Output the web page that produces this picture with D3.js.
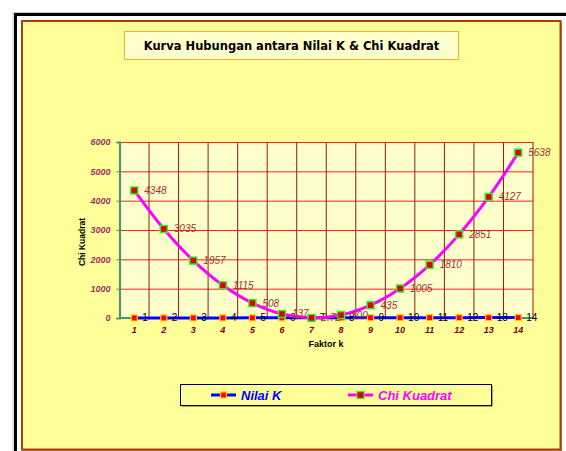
<!DOCTYPE html>
<html>
<head>
<meta charset="utf-8">
<script src="https://d3js.org/d3.v7.min.js"></script>
<style>
  body { margin: 0; background: #fff; }
  svg { display: block; }
</style>
</head>
<body>
<svg id="chart" width="566" height="451"></svg>
<script>
// data
const faktorK = [1, 2, 3, 4, 5, 6, 7, 8, 9, 10, 11, 12, 13, 14];
const nilaiK = [1, 2, 3, 4, 5, 6, 7, 8, 9, 10, 11, 12, 13, 14];
const chiKuadrat = [4348, 3035, 1957, 1115, 508, 137, 2.72, 100, 435, 1005, 1810, 2851, 4127, 5638];
const yTicks = [0, 1000, 2000, 3000, 4000, 5000, 6000];

const svg = d3.select('#chart');

// outer black frame (runs off the window)
svg.append('rect')
  .attr('x', 13).attr('y', 12.5).attr('width', 600).attr('height', 500)
  .attr('fill', 'none').attr('stroke', '#ccc').attr('stroke-width', 1);
svg.append('rect')
  .attr('x', 15.5).attr('y', 14.5).attr('width', 600).attr('height', 500)
  .attr('fill', 'none').attr('stroke', '#000').attr('stroke-width', 3);

// chart area with brown border
svg.append('rect')
  .attr('x', 23).attr('y', 22).attr('width', 539).attr('height', 429)
  .attr('fill', '#c98a5a');
svg.append('rect')
  .attr('x', 22).attr('y', 21).attr('width', 538.5).attr('height', 428.5)
  .attr('fill', '#FFFF99').attr('stroke', '#A5400C').attr('stroke-width', 2);

// title box
svg.append('rect')
  .attr('x', 124.5).attr('y', 31.5).attr('width', 334).attr('height', 28)
  .attr('fill', '#FFFFCC').attr('stroke', '#FFAA33').attr('stroke-width', 1);
svg.append('text')
  .attr('x', 291.5).attr('y', 50)
  .attr('text-anchor', 'middle')
  .style('font-family', '"DejaVu Sans", sans-serif')
  .style('font-weight', 'bold')
  .style('font-size', '11.5px')
  .style('fill', '#000')
  .text('Kurva Hubungan antara Nilai K & Chi Kuadrat');

// plot area
const plot = {left: 119.5, right: 533, top: 142, bottom: 318};
const x = d3.scaleBand().domain(faktorK).range([plot.left, plot.right]);
const y = d3.scaleLinear().domain([0, 6000]).range([plot.bottom, plot.top]);
const cx = d => x(d) + x.bandwidth() / 2;

svg.append('rect')
  .attr('x', plot.left).attr('y', plot.top)
  .attr('width', plot.right - plot.left).attr('height', plot.bottom - plot.top)
  .attr('fill', '#FFFFCC');

// horizontal gridlines
svg.append('g')
  .attr('transform', `translate(${plot.left},0)`)
  .call(d3.axisLeft(y).tickValues(yTicks.slice(1)).tickSize(-(plot.right - plot.left)).tickFormat(''))
  .call(g => g.select('.domain').remove())
  .call(g => g.selectAll('line').attr('stroke', '#FF2020'));

// vertical gridlines at category boundaries
svg.append('g')
  .selectAll('line')
  .data(faktorK)
  .join('line')
  .attr('x1', d => x(d) + x.bandwidth()).attr('x2', d => x(d) + x.bandwidth())
  .attr('y1', plot.top).attr('y2', plot.bottom)
  .attr('stroke', '#8B1A1A').attr('stroke-width', 1);

// y axis
const yAxis = svg.append('g')
  .attr('transform', `translate(${plot.left},0)`)
  .call(d3.axisLeft(y).tickValues(yTicks).tickFormat(d3.format('d')).tickSize(3).tickPadding(6));
yAxis.select('.domain').attr('stroke', '#3A9A6A').attr('stroke-width', 2);
yAxis.selectAll('line').attr('stroke', '#3A9A6A');
yAxis.selectAll('text')
  .style('font-family', '"Liberation Sans", Arial, sans-serif')
  .style('font-size', '9px').style('font-weight', 'bold').style('font-style', 'italic')
  .style('fill', '#993366');

// x axis line
svg.append('line')
  .attr('x1', plot.left).attr('x2', plot.right)
  .attr('y1', plot.bottom).attr('y2', plot.bottom)
  .attr('stroke', '#3A9A6A').attr('stroke-width', 2);

// x tick labels
svg.append('g')
  .selectAll('text')
  .data(faktorK)
  .join('text')
  .attr('x', d => cx(d)).attr('y', 333)
  .attr('text-anchor', 'middle')
  .style('font-family', '"Liberation Sans", Arial, sans-serif')
  .style('font-size', '9px').style('font-weight', 'bold').style('font-style', 'italic')
  .style('fill', '#800000')
  .text(d => d);

// axis titles
svg.append('text')
  .attr('x', 326).attr('y', 347)
  .attr('text-anchor', 'middle')
  .style('font-family', '"Liberation Sans", Arial, sans-serif')
  .style('font-size', '9px').style('font-weight', 'bold')
  .text('Faktor k');
svg.append('text')
  .attr('transform', 'translate(85,242) rotate(-90)')
  .attr('text-anchor', 'middle')
  .style('font-family', '"Liberation Sans", Arial, sans-serif')
  .style('font-size', '8.5px').style('font-weight', 'bold')
  .text('Chi Kuadrat');

// Nilai K series
const lineK = d3.line().x((d, i) => cx(faktorK[i])).y(d => y(d));
svg.append('path')
  .datum(nilaiK)
  .attr('d', lineK)
  .attr('fill', 'none').attr('stroke', '#0000FF').attr('stroke-width', 3);
svg.append('g')
  .selectAll('rect')
  .data(nilaiK)
  .join('rect')
  .attr('x', (d, i) => cx(faktorK[i]) - 3).attr('y', d => y(d) - 3)
  .attr('width', 6).attr('height', 6)
  .attr('fill', '#FF0000').attr('stroke', '#FFCC00').attr('stroke-width', 1.2);
svg.append('g')
  .selectAll('text')
  .data(nilaiK)
  .join('text')
  .attr('x', (d, i) => cx(faktorK[i]) + 8).attr('y', d => y(d) + 3.5)
  .style('font-family', '"Liberation Sans", Arial, sans-serif')
  .style('font-size', '10px')
  .style('fill', '#000')
  .text(d => d);

// Chi Kuadrat series
const lineChi = d3.line().x((d, i) => cx(faktorK[i])).y(d => y(d)).curve(d3.curveCatmullRom.alpha(0.5));
svg.append('path')
  .datum(chiKuadrat)
  .attr('d', lineChi)
  .attr('fill', 'none').attr('stroke', '#FF00FF').attr('stroke-width', 3);
svg.append('g')
  .selectAll('rect')
  .data(chiKuadrat)
  .join('rect')
  .attr('x', (d, i) => cx(faktorK[i]) - 3.5).attr('y', d => y(d) - 3.5)
  .attr('width', 7).attr('height', 7)
  .attr('fill', '#E00000').attr('stroke', '#33EE33').attr('stroke-width', 1.5);
svg.append('g')
  .selectAll('text')
  .data(chiKuadrat)
  .join('text')
  .attr('x', (d, i) => cx(faktorK[i]) + 10).attr('y', d => y(d) + 3.5)
  .style('font-family', '"Liberation Sans", Arial, sans-serif')
  .style('font-size', '10px').style('font-style', 'italic')
  .style('fill', '#993333')
  .text(d => d);

// legend
const legend = svg.append('g');
legend.append('rect')
  .attr('x', 181.5).attr('y', 385.5).attr('width', 311).attr('height', 21)
  .attr('fill', '#555');
legend.append('rect')
  .attr('x', 180.5).attr('y', 384.5).attr('width', 311).attr('height', 21)
  .attr('fill', '#FFFF99').attr('stroke', '#000').attr('stroke-width', 1);
const legendItems = [
  {name: 'Nilai K', color: '#0000FF', x: 211, w: 6, fill: '#FF0000', stroke: '#FFCC00'},
  {name: 'Chi Kuadrat', color: '#FF00FF', x: 348, w: 7, fill: '#E00000', stroke: '#33EE33'}
];
legendItems.forEach(it => {
  legend.append('line')
    .attr('x1', it.x).attr('x2', it.x + 25).attr('y1', 395).attr('y2', 395)
    .attr('stroke', it.color).attr('stroke-width', 3);
  legend.append('rect')
    .attr('x', it.x + 12.5 - it.w / 2).attr('y', 395 - it.w / 2)
    .attr('width', it.w).attr('height', it.w)
    .attr('fill', it.fill).attr('stroke', it.stroke).attr('stroke-width', 1.2);
  legend.append('text')
    .attr('x', it.x + 30).attr('y', 399.5)
    .style('font-family', '"Liberation Sans", Arial, sans-serif')
    .style('font-size', '13px').style('font-weight', 'bold').style('font-style', 'italic')
    .style('fill', it.color)
    .text(it.name);
});
</script>
</body>
</html>
